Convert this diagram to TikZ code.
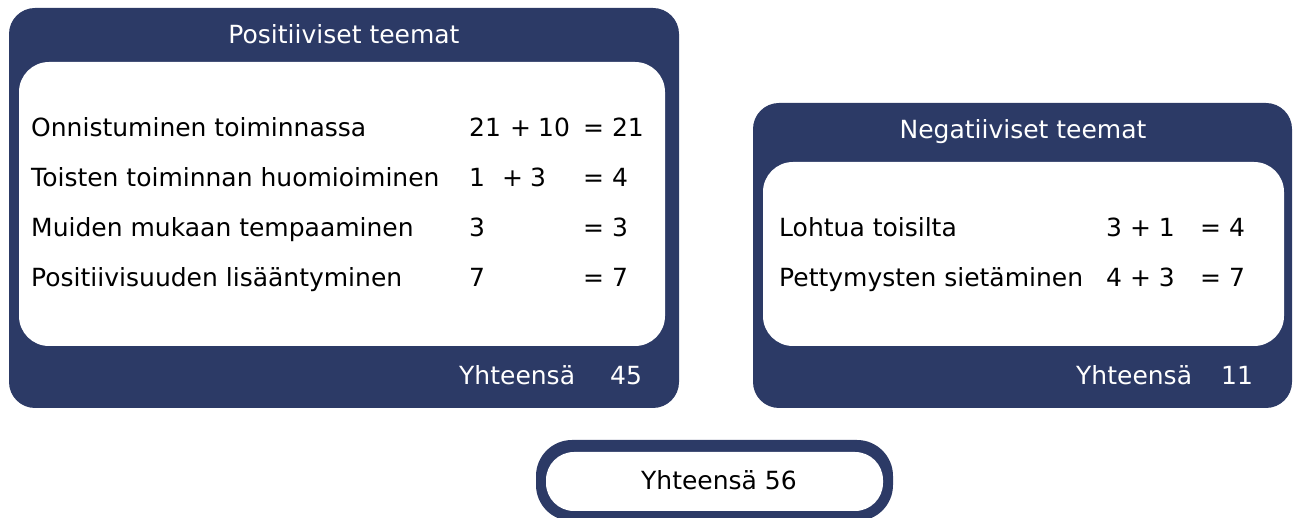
\documentclass[tikz,border=0pt]{standalone}
\usepackage{fontspec}
\setmainfont{DejaVu Sans}
\definecolor{navy}{HTML}{2C3A66}
\begin{document}
\begin{tikzpicture}[x=1pt,y=-1pt,
  outerbox/.style={fill=navy, draw=none},
  innerbox/.style={fill=white, draw=none},
  txt/.style={inner sep=0pt, anchor=base west, font=\fontsize{25}{30}\selectfont, text=black},
  wtxt/.style={txt, text=white},
  ctitle/.style={inner sep=0pt, anchor=base, font=\fontsize{25}{30}\selectfont, text=white}]
\useasboundingbox (0,0) rectangle (1294,518);
\begin{scope}
\clip (0,0) rectangle (1294,518);
% left box
\fill[outerbox, rounded corners=26pt] (9,8) rectangle (679,408);
\fill[innerbox, rounded corners=30pt] (19,62) rectangle (665,346);
% right box
\fill[outerbox, rounded corners=26pt] (753,103) rectangle (1292,408);
\fill[innerbox, rounded corners=30pt] (763,162) rectangle (1284,346);
% bottom box
\fill[outerbox, rounded corners=36pt] (536,440) rectangle (893,521);
\fill[innerbox, rounded corners=28pt] (546,452) rectangle (883,511);
\end{scope}

\node[ctitle] (ptitle) at (344,44) {Positiiviset teemat};
\node[ctitle] (ntitle) at (1023,139) {Negatiiviset teemat};

\node[txt] (p1) at (31,137) {Onnistuminen toiminnassa};
\node[txt] (p2) at (31,187) {Toisten toiminnan huomioiminen};
\node[txt] (p3) at (31,237) {Muiden mukaan tempaaminen};
\node[txt] (p4) at (31,287) {Positiivisuuden lisääntyminen};

\node[txt] (p1a) at (469,137) {21};
\node[txt] (p1b) at (510,137) {+};
\node[txt] (p1c) at (538,137) {10};
\node[txt] (p1d) at (583,137) {= 21};
\node[txt] (p2a) at (469,187) {1};
\node[txt] (p2b) at (502,187) {+};
\node[txt] (p2c) at (530,187) {3};
\node[txt] (p2d) at (583,187) {= 4};
\node[txt] (p3a) at (469,237) {3};
\node[txt] (p3d) at (583,237) {= 3};
\node[txt] (p4a) at (469,287) {7};
\node[txt] (p4d) at (583,287) {= 7};

\node[txt] (n1) at (779,237) {Lohtua toisilta};
\node[txt] (n2) at (779,287) {Pettymysten sietäminen};
\node[txt] (n1a) at (1106,237) {3 + 1};
\node[txt] (n1d) at (1200,237) {= 4};
\node[txt] (n2a) at (1106,287) {4 + 3};
\node[txt] (n2d) at (1200,287) {= 7};

\node[wtxt] (psum) at (459,385) {Yhteensä};
\node[wtxt] (psumv) at (610,385) {45};
\node[wtxt] (nsum) at (1076,385) {Yhteensä};
\node[wtxt] (nsumv) at (1221,385) {11};

\node[inner sep=0pt, anchor=base, font=\fontsize{25}{30}\selectfont] (total) at (719,490) {Yhteensä 56};
\end{tikzpicture}
\end{document}
